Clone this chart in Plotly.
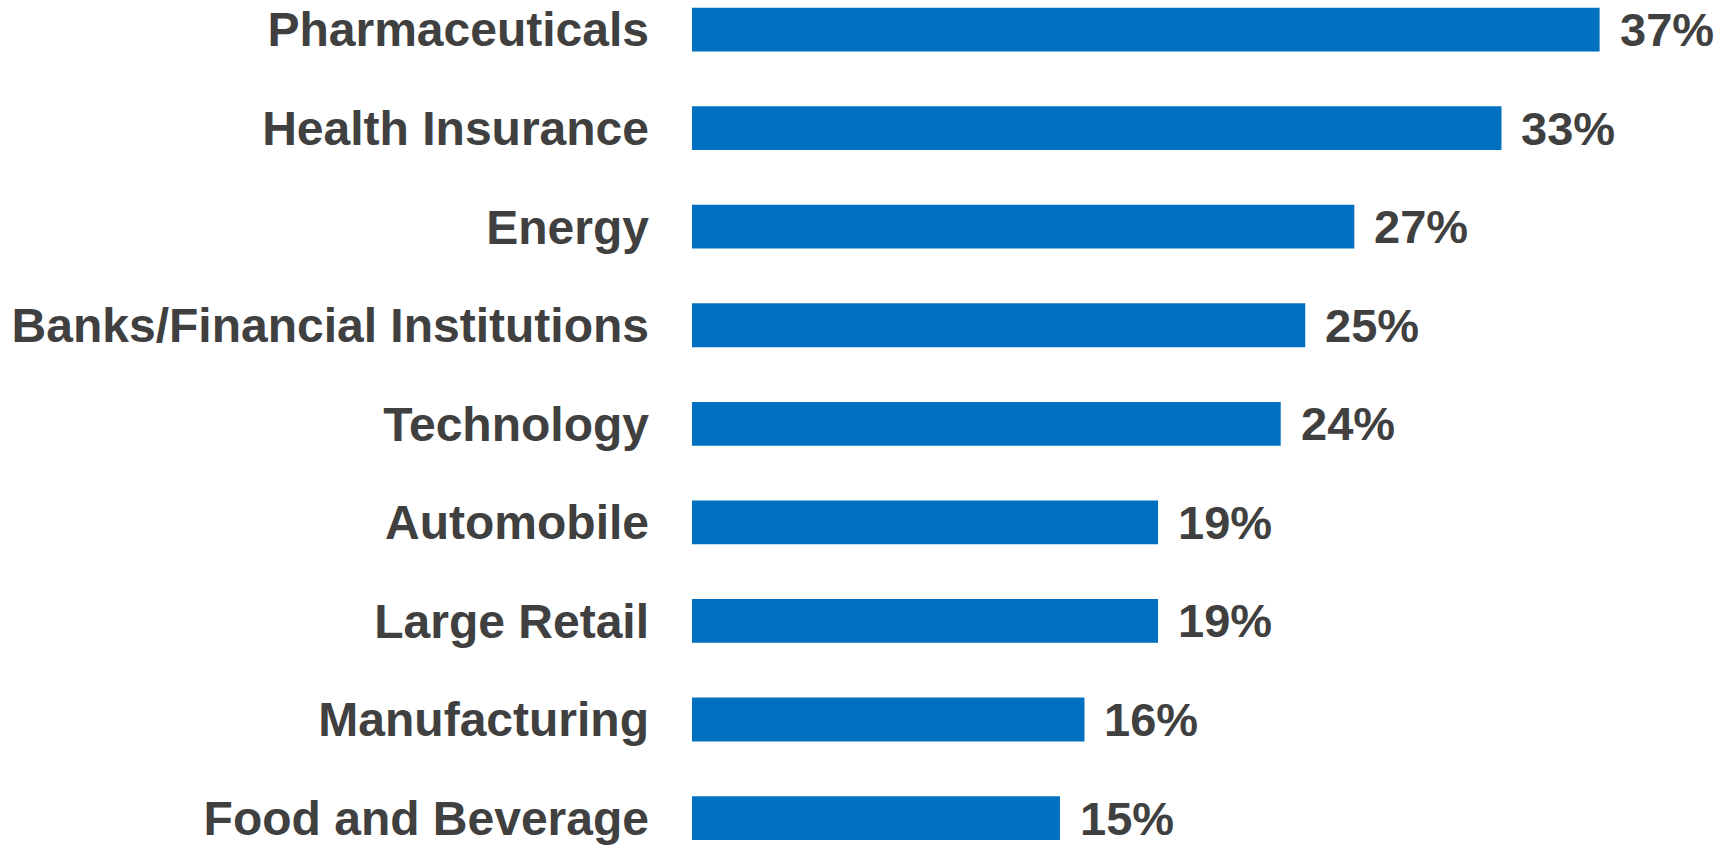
import plotly.graph_objects as go

# Share of respondents per industry
industries = [
    "Pharmaceuticals",
    "Health Insurance",
    "Energy",
    "Banks/Financial Institutions",
    "Technology",
    "Automobile",
    "Large Retail",
    "Manufacturing",
    "Food and Beverage",
]
shares = [37, 33, 27, 25, 24, 19, 19, 16, 15]
share_labels = [f"{v}%" for v in shares]

BAR_COLOR = "#0070C0"
TEXT_COLOR = "#404040"
FONT = "Liberation Sans, Arial, sans-serif"

fig = go.Figure(
    go.Bar(
        x=shares,
        y=industries,
        orientation="h",
        marker=dict(color=BAR_COLOR, line=dict(width=0)),
        hoverinfo="skip",
    )
)

# Value labels to the right of each bar
for name, val, lab in zip(industries, shares, share_labels):
    fig.add_annotation(
        x=val, y=name, xref="x", yref="y",
        text=lab, showarrow=False,
        xanchor="left", yanchor="middle", xshift=18,
        font=dict(family=FONT, size=47, color=TEXT_COLOR, weight="bold"),
    )

fig.update_layout(
    width=1723, height=845,
    margin=dict(l=692, r=0, t=0, b=0),
    paper_bgcolor="white", plot_bgcolor="white",
    bargap=0.555,
    showlegend=False,
    xaxis=dict(range=[0, 42.03], visible=False, fixedrange=True),
    yaxis=dict(
        categoryorder="array", categoryarray=industries,
        range=[8.253, -0.30],
        showgrid=False, zeroline=False, showline=False, ticks="",
        ticklabelstandoff=42,
        tickfont=dict(family=FONT, size=48, color=TEXT_COLOR, weight="bold"),
        fixedrange=True,
    ),
)

fig.write_html("out.html")
